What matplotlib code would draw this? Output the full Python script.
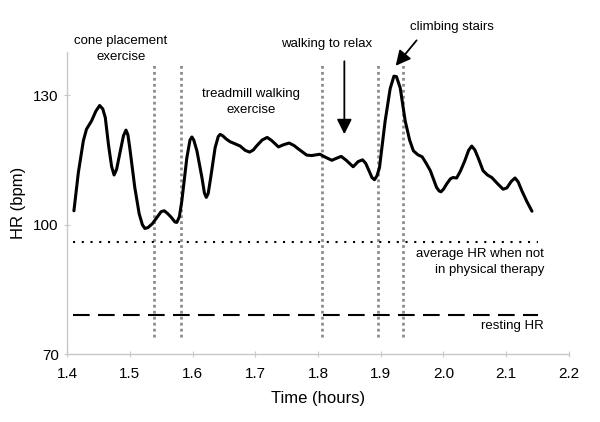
import matplotlib
matplotlib.use("Agg")
import matplotlib.pyplot as plt

plt.rcParams['font.family'] = ['Liberation Sans', 'DejaVu Sans']

# heart rate trace
time_h = [1.411, 1.418, 1.426, 1.431, 1.439, 1.446, 1.452, 1.457, 1.461, 1.466,
          1.471, 1.475, 1.479, 1.485, 1.490, 1.494, 1.497, 1.500, 1.508, 1.515,
          1.520, 1.524, 1.529, 1.536, 1.545, 1.550, 1.555, 1.560, 1.566, 1.572,
          1.575, 1.579, 1.583, 1.591, 1.596, 1.599, 1.602, 1.607, 1.615, 1.619,
          1.622, 1.625, 1.629, 1.636, 1.641, 1.644, 1.648, 1.654, 1.660, 1.676,
          1.684, 1.691, 1.697, 1.702, 1.711, 1.719, 1.726, 1.737, 1.745, 1.754,
          1.762, 1.769, 1.782, 1.790, 1.803, 1.812, 1.822, 1.830, 1.837, 1.845,
          1.856, 1.864, 1.871, 1.876, 1.880, 1.886, 1.890, 1.894, 1.898, 1.907,
          1.915, 1.921, 1.925, 1.931, 1.939, 1.946, 1.952, 1.959, 1.966, 1.972,
          1.979, 1.989, 1.993, 1.996, 2.000, 2.005, 2.011, 2.015, 2.021, 2.027,
          2.034, 2.040, 2.045, 2.050, 2.056, 2.063, 2.070, 2.077, 2.086, 2.095,
          2.101, 2.108, 2.114, 2.119, 2.125, 2.133, 2.141]
hr_bpm = [103.2, 112.0, 119.4, 122.1, 124.0, 126.3, 127.6, 126.8, 124.8, 118.6,
          113.5, 111.5, 112.8, 117.1, 120.6, 121.9, 120.8, 117.8, 108.6, 102.5,
          100.0, 99.1, 99.3, 100.2, 102.0, 103.0, 103.2, 102.6, 101.7, 100.6,
          100.5, 101.8, 105.5, 115.5, 119.6, 120.3, 119.6, 117.1, 110.9, 107.3,
          106.3, 107.2, 110.9, 117.8, 120.4, 120.9, 120.6, 119.8, 119.2, 118.2,
          117.2, 116.8, 117.3, 118.2, 119.6, 120.2, 119.5, 118.0, 118.5, 118.9,
          118.3, 117.5, 116.1, 116.0, 116.3, 115.6, 114.9, 115.4, 115.8, 114.9,
          113.4, 114.6, 115.0, 114.2, 112.9, 110.9, 110.4, 111.3, 113.2, 124.0,
          131.5, 134.4, 134.3, 131.7, 124.0, 119.6, 117.1, 116.2, 115.7, 114.3,
          112.5, 108.6, 107.8, 107.6, 108.2, 109.4, 110.6, 110.9, 110.8, 112.4,
          114.8, 117.2, 118.2, 117.3, 115.2, 112.5, 111.5, 110.9, 109.5, 108.2,
          108.5, 110.0, 110.8, 109.9, 107.8, 105.3, 103.1]

# activity boundaries (hours)
markers = [1.538, 1.581, 1.807, 1.896, 1.936]

avg_hr = 96
rest_hr = 79
ref_start, ref_end = 1.41, 2.15

x_ticks = [1.4, 1.5, 1.6, 1.7, 1.8, 1.9, 2.0, 2.1, 2.2]
y_ticks = [70, 100, 130]

fig = plt.figure(figsize=(6, 4.22), dpi=100)
ax = fig.add_axes([0.1117, 0.1611, 0.8366, 0.7157])

for m in markers:
  ax.plot([m, m], [74, 137.5], color='#8c8c8c', lw=2.0,
          linestyle=(0, (1, 1.15)), dash_capstyle='butt')

ax.plot([ref_start, ref_end], [avg_hr, avg_hr], color='black', lw=1.5,
        linestyle=(0, (1, 3.2)))
ax.plot([ref_start, ref_end], [rest_hr, rest_hr], color='black', lw=1.5,
        linestyle=(0, (8, 4)))

ax.plot(time_h, hr_bpm, color='black', lw=2.2, solid_joinstyle='round',
        solid_capstyle='round')

ax.set_xlim(1.4, 2.2)
ax.set_ylim(70, 140)
ax.set_xticks(x_ticks)
ax.set_xticklabels([f"{t:.1f}" for t in x_ticks])
ax.set_yticks(y_ticks)

for side in ['top', 'right']:
  ax.spines[side].set_visible(False)
for side in ['left', 'bottom']:
  ax.spines[side].set_color('#c8c8c8')
  ax.spines[side].set_linewidth(1)
ax.tick_params(direction='inout', length=5, color='#c8c8c8', labelsize=11)
ax.tick_params(axis='x', pad=7)

ax.set_xlabel('Time (hours)', fontsize=12, labelpad=7)
ax.set_ylabel('HR (bpm)', fontsize=12, labelpad=5)

txt = dict(fontsize=9.5, ha='center', va='center', linespacing=1.45,
           clip_on=False)
ax.text(1.486, 140.8, 'cone placement\nexercise', **txt)
ax.text(1.693, 128.3, 'treadmill walking\nexercise', **txt)
ax.text(1.813, 141.8, 'walking to relax', **txt)
ax.text(2.013, 145.8, 'climbing stairs', **txt)

ax.annotate('', xy=(1.842, 120.3), xytext=(1.842, 138.5),
            arrowprops=dict(arrowstyle='-|>,head_length=0.9,head_width=0.45',
                            color='black', lw=1.3), annotation_clip=False)
ax.annotate('', xy=(1.921, 136.3), xytext=(1.960, 143.2),
            arrowprops=dict(arrowstyle='-|>,head_length=0.9,head_width=0.45',
                            color='black', lw=1.3), annotation_clip=False)

ax.text(2.160, 91.3, 'average HR when not\nin physical therapy', fontsize=9.5,
        ha='right', va='center', linespacing=1.45)
ax.text(2.160, 76.5, 'resting HR', fontsize=9.5, ha='right', va='center')

fig.savefig('out.png', dpi=100)
